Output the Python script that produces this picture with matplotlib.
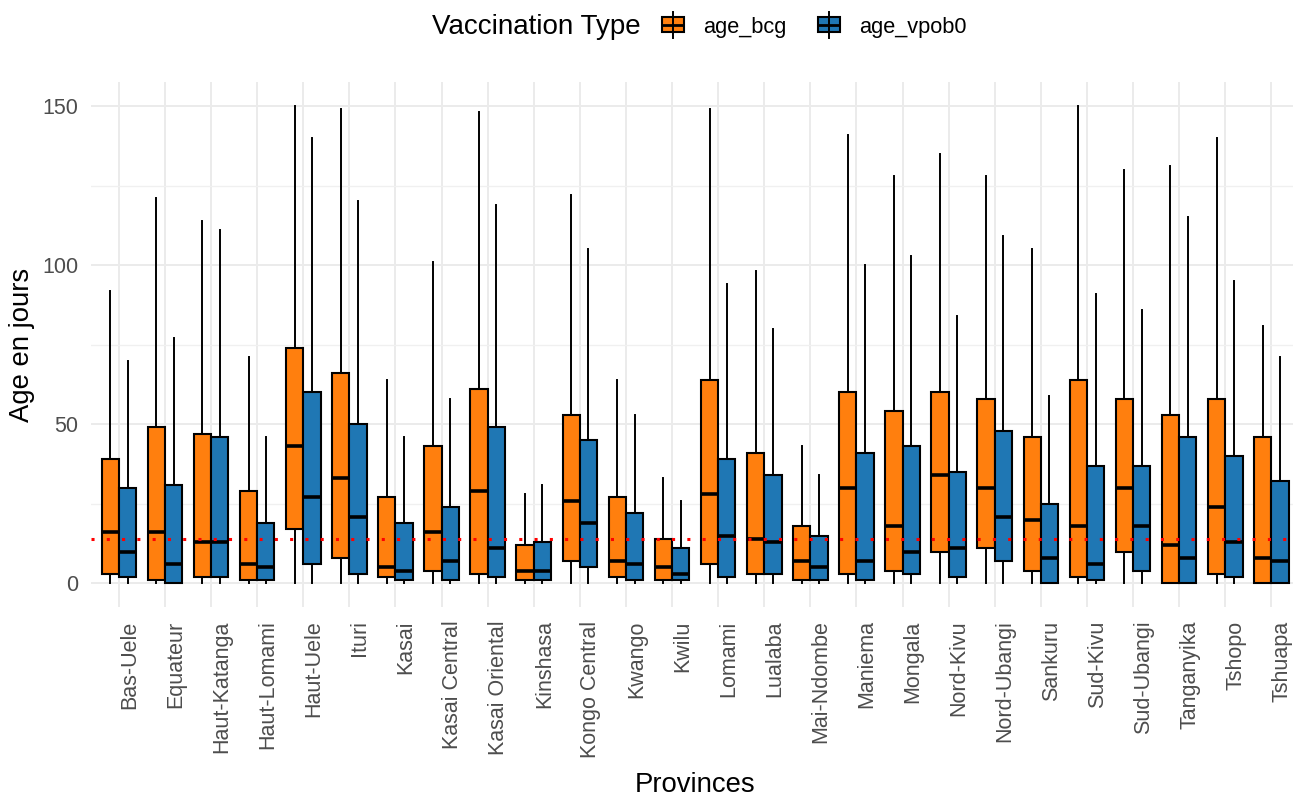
import matplotlib
matplotlib.use("Agg")
import matplotlib.pyplot as plt
from matplotlib.patches import Rectangle
from matplotlib.lines import Line2D

plt.rcParams["font.family"] = ["Liberation Sans", "DejaVu Sans"]

provinces = ["Bas-Uele", "Equateur", "Haut-Katanga", "Haut-Lomami", "Haut-Uele",
             "Ituri", "Kasai", "Kasai Central", "Kasai Oriental", "Kinshasa",
             "Kongo Central", "Kwango", "Kwilu", "Lomami", "Lualaba", "Mai-Ndombe",
             "Maniema", "Mongala", "Nord-Kivu", "Nord-Ubangi", "Sankuru",
             "Sud-Kivu", "Sud-Ubangi", "Tanganyika", "Tshopo", "Tshuapa"]

# age_bcg summary statistics (days)
bcg_lo = [0] * 26
bcg_q1 = [3, 1, 2, 1, 17, 8, 2, 4, 3, 1, 7, 2, 1, 6, 3, 1, 3, 4, 10, 11, 4, 2, 10, 0, 3, 0]
bcg_med = [16, 16, 13, 6, 43, 33, 5, 16, 29, 4, 26, 7, 5, 28, 14, 7, 30, 18, 34, 30, 20, 18, 30, 12, 24, 8]
bcg_q3 = [39, 49, 47, 29, 74, 66, 27, 43, 61, 12, 53, 27, 14, 64, 41, 18, 60, 54, 60, 58, 46, 64, 58, 53, 58, 46]
bcg_hi = [92, 121, 114, 71, 150, 149, 64, 101, 148, 28, 122, 64, 33, 149, 98, 43, 141, 128, 135, 128, 105, 150, 130, 131, 140, 81]

# age_vpob0 summary statistics (days)
vpob_lo = [0] * 26
vpob_q1 = [2, 0, 2, 1, 6, 3, 1, 1, 2, 1, 5, 1, 1, 2, 3, 1, 1, 3, 2, 7, 0, 1, 4, 0, 2, 0]
vpob_med = [10, 6, 13, 5, 27, 21, 4, 7, 11, 4, 19, 6, 3, 15, 13, 5, 7, 10, 11, 21, 8, 6, 18, 8, 13, 7]
vpob_q3 = [30, 31, 46, 19, 60, 50, 19, 24, 49, 13, 45, 22, 11, 39, 34, 15, 41, 43, 35, 48, 25, 37, 37, 46, 40, 32]
vpob_hi = [70, 77, 111, 46, 140, 120, 46, 58, 119, 31, 105, 53, 26, 94, 80, 34, 100, 103, 84, 109, 59, 91, 86, 115, 95, 71]

series_names = ["age_bcg", "age_vpob0"]
series_colors = ["#FF7F0E", "#1F77B4"]
reference_age = 14

W, H = 1293, 797
fig = plt.figure(figsize=(W / 100, H / 100), dpi=100)
ax = fig.add_axes([91.2 / W, (H - 607.2) / H, (1299 - 91.2) / W, (607.2 - 82.1) / H])

grid_major = "#EBEBEB"
ax.set_axisbelow(True)
for s in ax.spines.values():
    s.set_visible(False)

def make_stats(lo, q1, med, q3, hi):
    return [dict(whislo=a, q1=b, med=c, q3=d, whishi=e, fliers=[])
            for a, b, c, d, e in zip(lo, q1, med, q3, hi)]

dodge = 0.1875
bw = 0.375
groups = [make_stats(bcg_lo, bcg_q1, bcg_med, bcg_q3, bcg_hi),
          make_stats(vpob_lo, vpob_q1, vpob_med, vpob_q3, vpob_hi)]
for k, (stats, col) in enumerate(zip(groups, series_colors)):
    pos = [i + (dodge if k else -dodge) for i in range(len(provinces))]
    ax.bxp(stats, positions=pos, widths=bw, patch_artist=True,
           showfliers=False, showcaps=False, manage_ticks=False,
           boxprops=dict(facecolor=col, edgecolor="black", linewidth=1.5),
           whiskerprops=dict(color="black", linewidth=1.4),
           medianprops=dict(color="black", linewidth=2.6, solid_capstyle="butt"))

ax.axhline(reference_age, color="red", linestyle=(0, (1, 4)), linewidth=2.2, zorder=6)

ax.set_xlim(-0.6, len(provinces) - 0.4)
ax.set_ylim(-7.5, 157.5)
ax.set_yticks([0, 50, 100, 150])
ax.set_yticks([25, 75, 125], minor=True)
ax.set_xticks(range(len(provinces)))
ax.set_xticklabels(provinces, rotation=90, ha="left", va="top")
ax.grid(True, which="major", color=grid_major, linewidth=1.4)
ax.grid(True, which="minor", axis="y", color="#F0F0F0", linewidth=1.0)
ax.tick_params(which="both", length=0)
ax.tick_params(axis="x", pad=9.5, labelsize=15.5, labelcolor="#4D4D4D")
ax.tick_params(axis="y", pad=9.5, labelsize=15.5, labelcolor="#4D4D4D")

ax.set_xlabel("Provinces", fontsize=19.8, color="black")
ax.xaxis.set_label_coords((695 - 91.2) / (1299 - 91.2), -(785 - 607.2) / (607.2 - 82.1))
ax.xaxis.label.set_va("center")
ax.set_ylabel("Age en jours", fontsize=19.8, color="black")
ax.yaxis.set_label_coords(-(91.2 - 22) / (1299 - 91.2), 0.5)
ax.yaxis.label.set_va("center")

# legend drawn in figure pixel space (top-left origin)
def fx(px):
    return px / W

def fy(py):
    return 1 - py / H

fig.text(fx(432), fy(27), "Vaccination Type", fontsize=20, ha="left", va="center")
key_x = [662, 818]
label_x = [703, 859]
for kx, lx, name, col in zip(key_x, label_x, series_names, series_colors):
    cx = kx + 11
    fig.add_artist(Line2D([fx(cx), fx(cx)], [fy(12), fy(38)], color="black",
                          linewidth=1.4, transform=fig.transFigure))
    fig.add_artist(Rectangle((fx(kx), fy(32)), fx(22), (14.5) / H, facecolor=col,
                             edgecolor="black", linewidth=1.5, transform=fig.transFigure))
    fig.add_artist(Line2D([fx(kx), fx(kx + 22)], [fy(24.5), fy(24.5)], color="black",
                          linewidth=2.0, solid_capstyle="butt", transform=fig.transFigure))
    fig.text(fx(lx), fy(28), name, fontsize=15.7, ha="left", va="center")

fig.savefig("out.png", dpi=100)
